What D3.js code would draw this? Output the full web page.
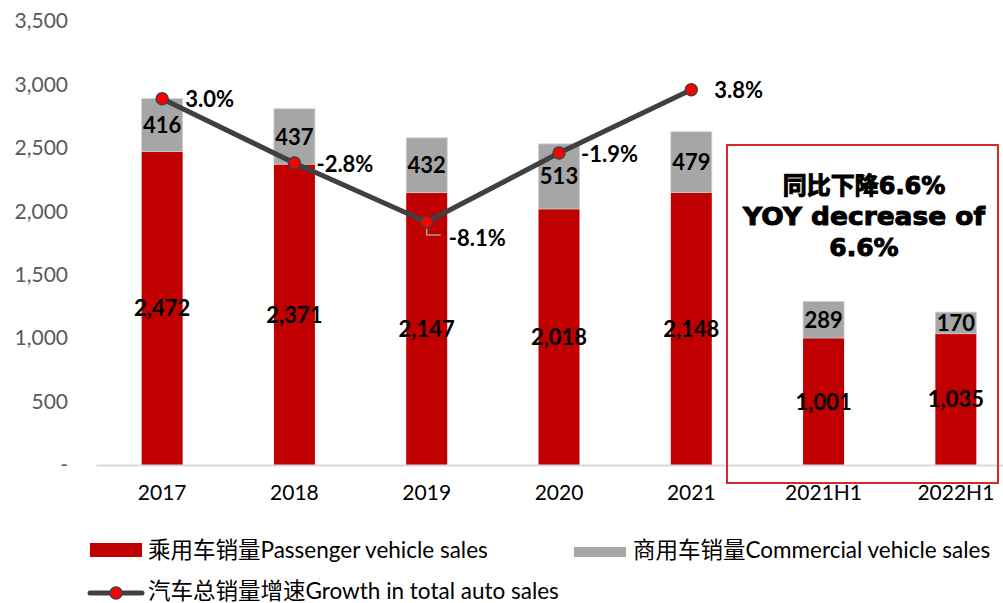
<!DOCTYPE html>
<html>
<head>
<meta charset="utf-8">
<script src="https://cdn.jsdelivr.net/npm/d3@7"></script>
<style>
  body { margin: 0; background: #fff; }
  svg text { font-family: Lato, "Noto Sans CJK SC", sans-serif; }
</style>
</head>
<body>
<svg id="chart" width="1003" height="603"></svg>
<script>
const categories = ['2017', '2018', '2019', '2020', '2021', '2021H1', '2022H1']
const passenger = [2472, 2371, 2147, 2018, 2148, 1001, 1035]
const commercial = [416, 437, 432, 513, 479, 289, 170]
const growthYears = ['2017', '2018', '2019', '2020', '2021']
const growth = [3.0, -2.8, -8.1, -1.9, 3.8]
const yTicks = [0, 500, 1000, 1500, 2000, 2500, 3000, 3500]
const noteLines = ['同比下降6.6%', 'YOY decrease of', '6.6%']

const RED = '#c00000'
const GREY = '#a6a6a6'
const LINE = '#404040'

const svg = d3.select('#chart')
const margin = { left: 96, top: 21, bottom: 138 }
const plotRight = 1022
const height = +svg.attr('height')
const innerHeight = height - margin.top - margin.bottom

const x = d3.scaleBand().domain(categories).range([margin.left, plotRight])
  .paddingInner(0.69).paddingOuter(0.345)
const y = d3.scaleLinear().domain([0, 3500]).range([margin.top + innerHeight, margin.top])
const y2 = d3.scaleLinear().domain([-30, 10]).range([margin.top + innerHeight, margin.top])
const cx = d => x(d) + x.bandwidth() / 2

// y axis labels
const yAxis = d3.axisLeft(y).tickValues(yTicks).tickSize(0).tickPadding(0)
  .tickFormat(d => d === 0 ? '-' : d3.format(',')(d))
svg.append('g')
  .attr('transform', 'translate(68,0)')
  .call(yAxis)
  .call(g => g.select('.domain').remove())
  .selectAll('text')
  .style('font-size', '21px')
  .style('font-family', 'Lato, sans-serif')
  .attr('fill', '#595959')

// bars
const rows = categories.map((c, i) => ({ cat: c, p: passenger[i], c: commercial[i] }))
svg.append('g').selectAll('rect').data(rows).enter().append('rect')
  .attr('x', d => x(d.cat))
  .attr('width', x.bandwidth())
  .attr('y', d => y(d.p))
  .attr('height', d => y(0) - y(d.p))
  .attr('fill', RED)
svg.append('g').selectAll('rect').data(rows).enter().append('rect')
  .attr('x', d => x(d.cat))
  .attr('width', x.bandwidth())
  .attr('y', d => y(d.p + d.c))
  .attr('height', d => y(d.p) - y(d.p + d.c))
  .attr('fill', GREY)
  .attr('stroke', '#d0d0d0')
  .attr('stroke-width', 0.8)

// x axis
const xAxis = d3.axisBottom(x).tickSize(0).tickPadding(20)
svg.append('g')
  .attr('transform', `translate(0,${y(0)})`)
  .call(xAxis)
  .call(g => g.select('.domain').attr('stroke', '#d9d9d9').attr('stroke-width', 2))
  .selectAll('text')
  .style('font-size', '21px')
  .style('font-family', 'Lato, sans-serif')
  .attr('fill', '#000')

// value labels
const fmt = d3.format(',')
svg.append('g').selectAll('text').data(rows).enter().append('text')
  .attr('x', d => cx(d.cat))
  .attr('y', d => y(d.p / 2) + 8)
  .attr('text-anchor', 'middle')
  .style('font-size', '22px').style('font-weight', 'bold')
  .text(d => fmt(d.p))
svg.append('g').selectAll('text').data(rows).enter().append('text')
  .attr('x', d => cx(d.cat))
  .attr('y', d => y(d.p + d.c / 2) + 8)
  .attr('text-anchor', 'middle')
  .style('font-size', '22px').style('font-weight', 'bold')
  .text(d => fmt(d.c))

// growth line
const pts = growthYears.map((c, i) => ({ cat: c, v: growth[i] }))
svg.append('path')
  .datum(pts)
  .attr('fill', 'none')
  .attr('stroke', LINE)
  .attr('stroke-width', 5)
  .attr('d', d3.line().x(d => cx(d.cat)).y(d => y2(d.v)))

// leader for -8.1%
const p19 = pts[2]
svg.append('path')
  .attr('d', `M${cx(p19.cat)},${y2(p19.v)} V${y2(p19.v) + 13} H${cx(p19.cat) + 14}`)
  .attr('fill', 'none').attr('stroke', '#a0a0a0').attr('stroke-width', 1.5)

svg.append('g').selectAll('circle').data(pts).enter().append('circle')
  .attr('cx', d => cx(d.cat))
  .attr('cy', d => y2(d.v))
  .attr('r', 6)
  .attr('fill', '#ff0000')
  .attr('stroke', LINE)
  .attr('stroke-width', 1.5)

const labelOffset = [[23, 8], [22, 9], [22, 24], [22, 9], [23, 8]]
svg.append('g').selectAll('text').data(pts).enter().append('text')
  .attr('x', (d, i) => cx(d.cat) + labelOffset[i][0])
  .attr('y', (d, i) => y2(d.v) + labelOffset[i][1])
  .style('font-size', '22px').style('font-weight', 'bold')
  .text(d => d.v.toFixed(1) + '%')

// highlight box
svg.append('rect')
  .attr('x', 727).attr('y', 145)
  .attr('width', 271).attr('height', 338)
  .attr('fill', 'none')
  .attr('stroke', '#d42a2a').attr('stroke-width', 2)

svg.append('g').selectAll('text').data(noteLines).enter().append('text')
  .attr('x', 864)
  .attr('y', (d, i) => 194 + i * 31)
  .attr('text-anchor', 'middle')
  .style('font-family', '"DejaVu Sans", "Noto Sans CJK SC", sans-serif')
  .style('font-size', (d, i) => i === 0 ? '24px' : '25px')
  .style('font-weight', 'bold')
  .attr('stroke', '#000').attr('stroke-width', 1)
  .attr('textLength', (d, i) => i === 1 ? 242 : null)
  .attr('lengthAdjust', 'spacingAndGlyphs')
  .text(d => d)

// legend
const legend = svg.append('g').style('font-size', '22.5px')
legend.append('rect').attr('x', 90).attr('y', 543).attr('width', 52).attr('height', 14).attr('fill', RED)
legend.append('text').attr('x', 148).attr('y', 558).text('乘用车销量Passenger vehicle sales')
legend.append('rect').attr('x', 574).attr('y', 547).attr('width', 52).attr('height', 10).attr('fill', GREY)
legend.append('text').attr('x', 633).attr('y', 558).text('商用车销量Commercial vehicle sales')
legend.append('line').attr('x1', 90).attr('x2', 142).attr('y1', 593).attr('y2', 593)
  .attr('stroke', LINE).attr('stroke-width', 5).attr('stroke-linecap', 'round')
legend.append('circle').attr('cx', 116).attr('cy', 593).attr('r', 6)
  .attr('fill', '#ff0000').attr('stroke', LINE).attr('stroke-width', 1.5)
legend.append('text').attr('x', 148).attr('y', 599).text('汽车总销量增速Growth in total auto sales')
</script>
</body>
</html>
